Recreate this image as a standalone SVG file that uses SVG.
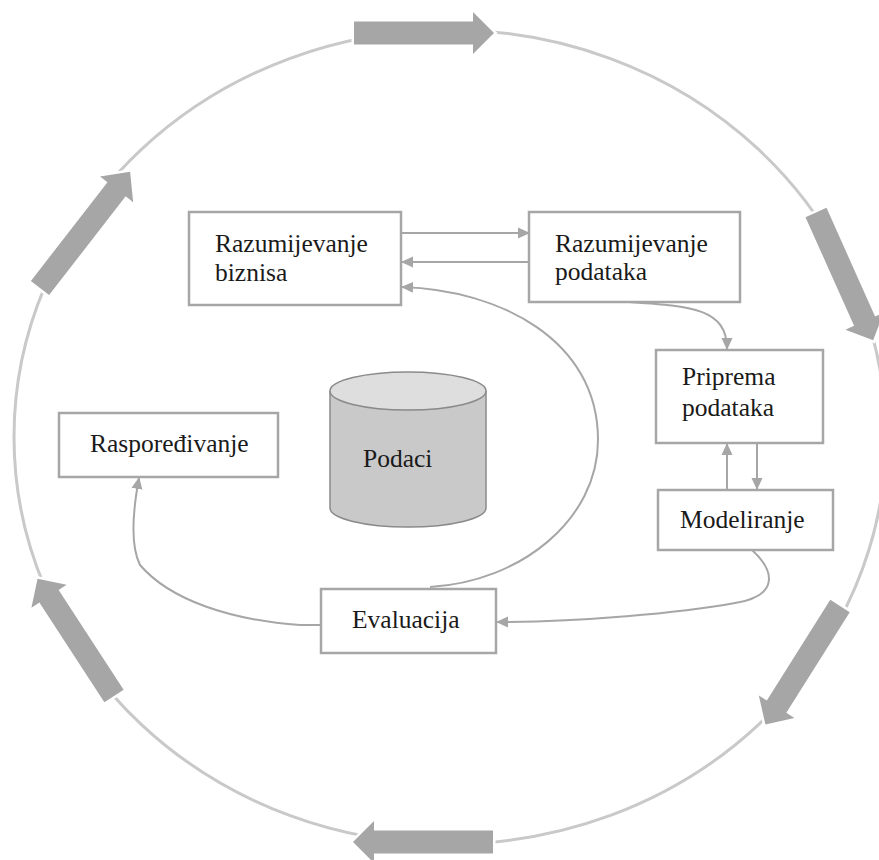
<svg xmlns="http://www.w3.org/2000/svg" width="879" height="860" viewBox="0 0 879 860">
  <style>
    .box { fill: #ffffff; stroke: #a6a6a6; stroke-width: 2.5; }
    .lbl { font-family: "Liberation Serif", "Times New Roman", serif; font-size: 25.5px; fill: #1a1a1a; }
    .conn { fill: none; stroke: #a6a6a6; stroke-width: 2; }
    .cycle { fill: #a6a6a6; stroke: #ffffff; stroke-width: 5; paint-order: stroke; stroke-linejoin: miter; }
  </style>
  <defs>
    <marker id="tip" markerUnits="userSpaceOnUse" markerWidth="12" markerHeight="12" viewBox="0 0 12 12" refX="11" refY="6" orient="auto">
      <path d="M0,0.5 L12,6 L0,11.5 Z" fill="#a6a6a6"/>
    </marker>
    <!-- block arrow pointing right, tail at origin, length 140 -->
    <path id="blockArrow" d="M0,-11.5 L119,-11.5 L119,-21 L140,0 L119,21 L119,11.5 L0,11.5 Z"/>
  </defs>

  <rect width="879" height="860" fill="#ffffff"/>

  <!-- outer lifecycle ring -->
  <g id="cycle">
    <ellipse cx="450" cy="437" rx="436" ry="407" fill="none" stroke="#c9c9c9" stroke-width="3"/>
    <use href="#blockArrow" class="cycle" transform="translate(354,33)"/>
    <use href="#blockArrow" class="cycle" transform="translate(816,212.5) rotate(65.9)"/>
    <use href="#blockArrow" class="cycle" transform="translate(840,606) rotate(122.2)"/>
    <use href="#blockArrow" class="cycle" transform="translate(493,842) rotate(180)"/>
    <use href="#blockArrow" class="cycle" transform="translate(114,696) rotate(-123.1)"/>
    <use href="#blockArrow" class="cycle" transform="translate(40,288) rotate(-52.2) scale(1.05,1)"/>
  </g>

  <!-- connectors between phases -->
  <g id="connectors">
    <path class="conn" d="M401,233 L529,233" marker-end="url(#tip)"/>
    <path class="conn" d="M529,262 L402,262" marker-end="url(#tip)"/>
    <path class="conn" d="M630,302 C690,306 727,308 727,349" marker-end="url(#tip)"/>
    <path class="conn" d="M727,490 L727,444" marker-end="url(#tip)"/>
    <path class="conn" d="M757,443 L757,489" marker-end="url(#tip)"/>
    <path class="conn" d="M752,550 C776,572 778,596 735,603 C680,613 580,622 497,622" marker-end="url(#tip)"/>
    <path class="conn" d="M430,587 C520,582 598,520 598,440 C598,340 500,290 402,287" marker-end="url(#tip)"/>
    <path class="conn" d="M321,625 L300,625 C230,620 170,600 140,565 C130,545 133,510 139,478" marker-end="url(#tip)"/>
  </g>

  <g id="business">
    <rect class="box" x="189" y="212" width="212" height="93"/>
    <text class="lbl" x="215" y="252">Razumijevanje</text>
    <text class="lbl" x="215" y="281">biznisa</text>
  </g>

  <g id="data-understanding">
    <rect class="box" x="529" y="212" width="211" height="90"/>
    <text class="lbl" x="555" y="252">Razumijevanje</text>
    <text class="lbl" x="555" y="280">podataka</text>
  </g>

  <g id="data-preparation">
    <rect class="box" x="656" y="350" width="167" height="93"/>
    <text class="lbl" x="682" y="385">Priprema</text>
    <text class="lbl" x="682" y="416">podataka</text>
  </g>

  <g id="modeling">
    <rect class="box" x="658" y="490" width="175" height="60"/>
    <text class="lbl" x="680" y="528">Modeliranje</text>
  </g>

  <g id="evaluation">
    <rect class="box" x="321" y="589" width="175" height="64"/>
    <text class="lbl" x="352" y="628">Evaluacija</text>
  </g>

  <g id="deployment">
    <rect class="box" x="59" y="413" width="219" height="64"/>
    <text class="lbl" x="90" y="452">Raspoređivanje</text>
  </g>

  <g id="data-store">
    <path d="M330,391 L330,508 A78,19 0 0 0 486,508 L486,391" fill="#c9c9c9" stroke="#8a8a8a" stroke-width="1.5"/>
    <ellipse cx="408" cy="391" rx="78" ry="19" fill="#dedede" stroke="#8a8a8a" stroke-width="1.5"/>
    <text class="lbl" x="363" y="467">Podaci</text>
  </g>
</svg>
